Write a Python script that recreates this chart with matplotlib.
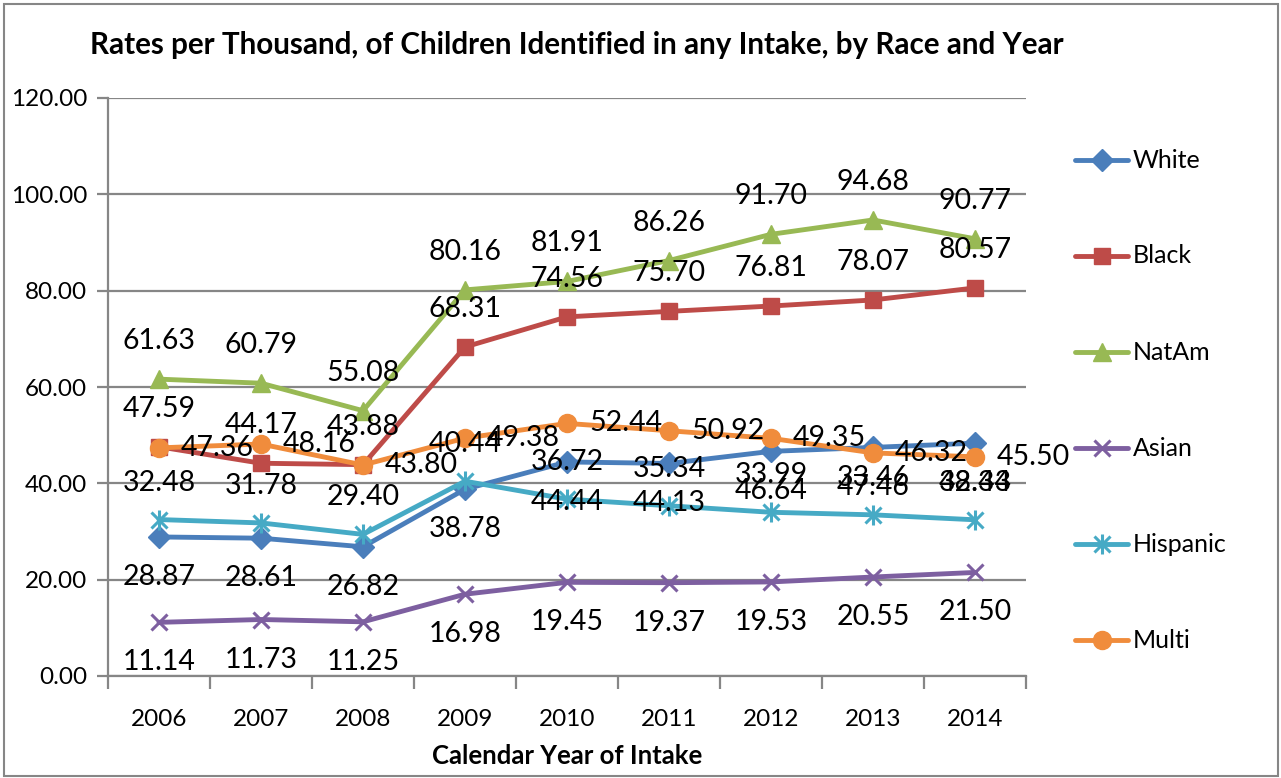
import matplotlib
matplotlib.use("Agg")
import matplotlib.pyplot as plt
from matplotlib.lines import Line2D
from matplotlib.patches import Rectangle

# ---- data ----
years = ["2006", "2007", "2008", "2009", "2010", "2011", "2012", "2013", "2014"]
white = [28.87, 28.61, 26.82, 38.78, 44.44, 44.13, 46.64, 47.46, 48.34]
black = [47.59, 44.17, 43.88, 68.31, 74.56, 75.70, 76.81, 78.07, 80.57]
natam = [61.63, 60.79, 55.08, 80.16, 81.91, 86.26, 91.70, 94.68, 90.77]
asian = [11.14, 11.73, 11.25, 16.98, 19.45, 19.37, 19.53, 20.55, 21.50]
hispanic = [32.48, 31.78, 29.40, 40.44, 36.72, 35.34, 33.99, 33.46, 32.43]
multi = [47.36, 48.16, 43.80, 49.38, 52.44, 50.92, 49.35, 46.32, 45.50]
series_names = ["White", "Black", "NatAm", "Asian", "Hispanic", "Multi"]
y_ticks = [0, 20, 40, 60, 80, 100, 120]

W, H = 1281, 778
plt.rcParams["font.family"] = ["Lato", "DejaVu Sans"]

fig = plt.figure(figsize=(W / 100, H / 100), dpi=100)
fig.patch.set_facecolor("white")

# plot area in pixel terms
L, R, T, B = 108, 1026, 98, 676
ax = fig.add_axes([L / W, 1 - B / H, (R - L) / W, (B - T) / H])

grid_c = "#868686"
x = list(range(len(years)))

styles = {
    "White":    dict(color="#4A7EBB", marker="D", ms=11),
    "Black":    dict(color="#BE4B48", marker="s", ms=11),
    "NatAm":    dict(color="#98B954", marker="^", ms=13),
    "Asian":    dict(color="#7D5FA0", marker="x", ms=12),
    "Hispanic": dict(color="#46AAC5", marker="x", ms=12),
    "Multi":    dict(color="#F08C3C", marker="o", ms=13),
}
values = {"White": white, "Black": black, "NatAm": natam,
          "Asian": asian, "Hispanic": hispanic, "Multi": multi}

# label placement (offset in pixels, horizontal alignment)
label_pos = {
    "White": (0, -40, "center"),
    "Black": (0, 38, "center"),
    "NatAm": (0, 38, "center"),
    "Asian": (0, -40, "center"),
    "Hispanic": (0, 37, "center"),
    "Multi": (22, 0, "left"),
}

lw = 3.5
for name in series_names:
    st = styles[name]
    vals = values[name]
    mew = 2.2 if st["marker"] == "x" else 1
    ax.plot(x, vals, color=st["color"], lw=lw, marker=st["marker"],
            ms=st["ms"], mew=mew, mec=st["color"], mfc=st["color"],
            solid_capstyle="round", zorder=3, clip_on=False)
    if name == "Hispanic":
        ax.plot(x, vals, ls="none", marker="|", ms=15, mew=2.2,
                color=st["color"], zorder=3, clip_on=False)

for name in series_names:
    vals = values[name]
    dx, dy, ha = label_pos[name]
    for i, v in enumerate(vals):
        ax.annotate(f"{v:.2f}", (i, v), xytext=(dx, dy),
                    textcoords="offset pixels", ha=ha, va="center",
                    fontsize=20.5, color="black", zorder=5)

ax.set_xlim(-0.5, len(years) - 0.5)
ax.set_ylim(0, 120)
ax.set_yticks(y_ticks)
ax.set_yticklabels([f"{t:.2f}" for t in y_ticks], fontsize=17.5)
ax.yaxis.grid(True, color=grid_c, lw=1.6)
ax.set_axisbelow(True)

# category labels centred, tick marks at category boundaries
ax.set_xticks(x)
ax.set_xticklabels(years, fontsize=17.5)
ax.tick_params(axis="x", which="major", length=0, pad=24)
ax.set_xticks([i - 0.5 for i in range(len(years) + 1)], minor=True)
ax.tick_params(axis="x", which="minor", length=9, width=1.6, color=grid_c)
ax.tick_params(axis="y", length=8, width=1.6, color=grid_c, pad=7)

for s in ["top", "right"]:
    ax.spines[s].set_visible(False)
for s in ["left", "bottom"]:
    ax.spines[s].set_color(grid_c)
    ax.spines[s].set_linewidth(1.6)

ax.set_xlabel("Calendar Year of Intake", fontsize=18.5, fontweight="bold",
              labelpad=10)

fig.text(577 / W, 1 - 45 / H,
         "Rates per Thousand, of Children Identified in any Intake, by Race and Year",
         ha="center", va="center", fontsize=21.3, fontweight="bold")

# legend drawn entry by entry
leg_y0, leg_step = 160, 96
for k, name in enumerate(series_names):
    st = styles[name]
    yy = 1 - (leg_y0 + k * leg_step) / H
    mew = 2.2 if st["marker"] == "x" else 1
    fig.add_artist(Line2D([1075 / W, 1128 / W], [yy, yy], transform=fig.transFigure,
                          color=st["color"], lw=lw, solid_capstyle="round"))
    fig.add_artist(Line2D([1101.5 / W], [yy], transform=fig.transFigure,
                          color=st["color"], marker=st["marker"], ms=st["ms"],
                          mew=mew, ls="none"))
    if name == "Hispanic":
        fig.add_artist(Line2D([1101.5 / W], [yy], transform=fig.transFigure,
                              color=st["color"], marker="|", ms=15, mew=2.2, ls="none"))
    fig.text(1133 / W, yy, name, ha="left", va="center", fontsize=18)

# chart border
fig.add_artist(Rectangle((4 / W, 2 / H), (W - 7) / W, (H - 6) / H,
                         transform=fig.transFigure, fill=False,
                         edgecolor=grid_c, lw=1.5))

fig.savefig("out.png", dpi=100)
